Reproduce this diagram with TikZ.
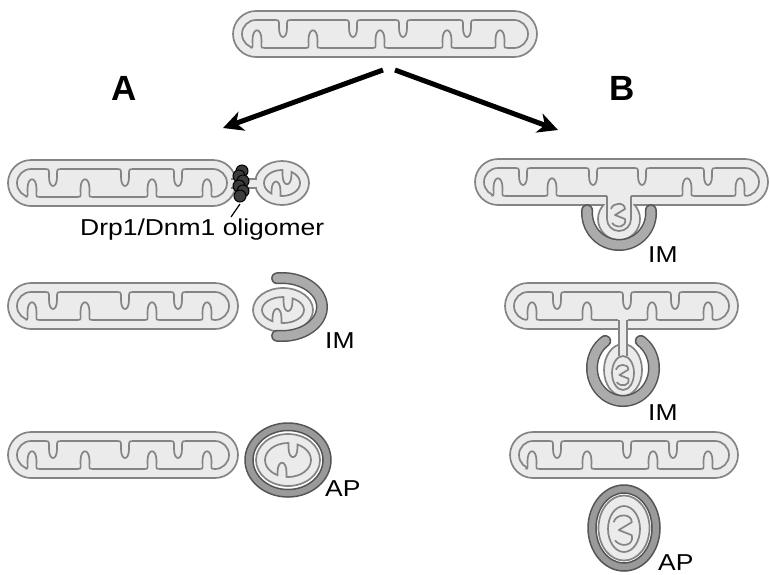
\documentclass[tikz,border=0pt]{standalone}
\usepackage{fontspec}
\setmainfont{Liberation Sans}
\usetikzlibrary{arrows.meta}
\definecolor{mfill}{HTML}{EBEBEB}
\definecolor{mgray}{HTML}{848484}
\definecolor{imfill}{HTML}{ABABAB}
\definecolor{imgray}{HTML}{555555}
\definecolor{apfill}{HTML}{9A9A9A}
\definecolor{drpgray}{HTML}{3C3C3C}
\tikzset{
  memb/.style={draw=mgray, line width=1.7pt},
  cupedge/.style={imgray, line width=12pt, line cap=round},
  cupbody/.style={imfill, line width=9pt, line cap=round},
  ring/.style={draw=imgray, line width=1.5pt},
  lab/.style={inner sep=0pt, font=\fontsize{23}{26}\selectfont, xscale=1.15},
  bigarrow/.style={line width=5pt, -{Stealth[length=20pt,width=20pt,inset=6pt]}},
}
% long mitochondrion: left x, top y, width, cristae from top, cristae from bottom
\newcommand{\mito}[5]{%
  \begin{scope}[shift={(#1,#2)}]
    \draw[memb, fill=mfill, rounded corners=23pt] (0,0) rectangle (#3,46);
    \draw[memb, rounded corners=14pt] (9,9) rectangle (#3-9,37);
    \foreach \px in {#4} {
      \fill[mfill] (\px-6.5,7) -- (\px-6.5,9) .. controls (\px-3.5,9) and (\px-4,12) .. (\px-4,17)
        .. controls (\px-4,29) and (\px+4,29) .. (\px+4,17)
        .. controls (\px+4,12) and (\px+3.5,9) .. (\px+6.5,9) -- (\px+6.5,7) -- cycle;
      \draw[memb] (\px-6.5,9) .. controls (\px-3.5,9) and (\px-4,12) .. (\px-4,17)
        .. controls (\px-4,29) and (\px+4,29) .. (\px+4,17)
        .. controls (\px+4,12) and (\px+3.5,9) .. (\px+6.5,9);
    }
    \foreach \qx in {#5} {
      \fill[mfill] (\qx-6.5,39) -- (\qx-6.5,37) .. controls (\qx-3.5,37) and (\qx-4.5,34) .. (\qx-4.5,29)
        .. controls (\qx-4.5,16) and (\qx+4.5,16) .. (\qx+4.5,29)
        .. controls (\qx+4.5,34) and (\qx+3.5,37) .. (\qx+6.5,37) -- (\qx+6.5,39) -- cycle;
      \draw[memb] (\qx-6.5,37) .. controls (\qx-3.5,37) and (\qx-4.5,34) .. (\qx-4.5,29)
        .. controls (\qx-4.5,16) and (\qx+4.5,16) .. (\qx+4.5,29)
        .. controls (\qx+4.5,34) and (\qx+3.5,37) .. (\qx+6.5,37);
    }
  \end{scope}}
% small round mitochondrion: centre x, centre y, x radius, y radius
\newcommand{\bud}[4]{%
  \pgfmathsetmacro\irx{#3-9}
  \pgfmathsetmacro\iry{#4-9}
  \pgfmathsetmacro\crx{#3-8.2}
  \pgfmathsetmacro\cry{#4-8.2}
  \pgfmathsetmacro\ybot{#2+\iry*sqrt(1-(6/\irx)^2)}
  \pgfmathsetmacro\ytop{#2-\iry*sqrt(1-(5/\irx)^2)}
  \draw[memb, fill=mfill] (#1,#2) ellipse[x radius=#3, y radius=#4];
  \draw[memb] (#1,#2) ellipse[x radius=\irx, y radius=\iry];
  \fill[mfill] (#1-10.5,\ybot+5) -- (#1-10.5,\ybot-4) .. controls (#1-10.5,\ybot-17) and (#1-1.5,\ybot-17) .. (#1-1.5,\ybot-4) -- (#1-1.5,\ybot+5) -- cycle;
  \fill[mfill] (#1+0.5,\ytop-5) -- (#1+0.5,\ytop+4) .. controls (#1+0.5,\ytop+17) and (#1+9.5,\ytop+17) .. (#1+9.5,\ytop+4) -- (#1+9.5,\ytop-5) -- cycle;
  \begin{scope}
    \clip (#1,#2) ellipse[x radius=\crx, y radius=\cry];
    \draw[memb] (#1-10.5,\ybot+5) -- (#1-10.5,\ybot-4) .. controls (#1-10.5,\ybot-17) and (#1-1.5,\ybot-17) .. (#1-1.5,\ybot-4) -- (#1-1.5,\ybot+5);
    \draw[memb] (#1+0.5,\ytop-5) -- (#1+0.5,\ytop+4) .. controls (#1+0.5,\ytop+17) and (#1+9.5,\ytop+17) .. (#1+9.5,\ytop+4) -- (#1+9.5,\ytop-5);
  \end{scope}}
% curled crista inside the engulfed part
\newcommand{\curl}[3]{%
  \begin{scope}[shift={(#1,#2)}, scale=#3]
    \draw[memb, line join=round] (-8,-6) .. controls (-6,-13) and (6,-13) .. (6,-6) -- (-4,0) -- (6,4)
      .. controls (8,12) and (-2,14) .. (-7,8);
  \end{scope}}

\begin{document}
\begin{tikzpicture}[x=1pt, y=-1pt]
\useasboundingbox (0,0) rectangle (770,574);

% starting mitochondrion
\mito{233}{11}{304}{50,120,170,234}{24,80,147,214,267}
\coordinate (splitA) at (383,70);
\coordinate (splitB) at (395,70);
\coordinate (endA) at (223,128);
\coordinate (endB) at (558,130);
\draw[bigarrow] (splitA) -- (endA);
\draw[bigarrow] (splitB) -- (endB);

% pathways
\node[inner sep=0pt, font=\bfseries\fontsize{35}{40}\selectfont] (labA) at (124,88) {A};
\node[inner sep=0pt, font=\bfseries\fontsize{35}{40}\selectfont] (labB) at (622,88) {B};

% A: fission
\mito{8}{160}{228}{45,117,170}{24,77,144,199}
\bud{282}{183}{27}{22}
\fill[mfill] (231,179.8) rectangle (258,187.2);
\draw[memb] (231,179) -- (257,179);
\draw[memb] (231,188) -- (257,188);
\foreach \oy/\ox in {171/242, 176/239, 181/243, 186/239, 191/243, 196/240}
  \draw[black, fill=drpgray, line width=1pt] (\ox,\oy) circle[radius=6];
\node[lab, anchor=base west] (drp) at (80,235) {Drp1/Dnm1 oligomer};
\coordinate (olig) at (240,204);
\coordinate (tick) at (231,217);
\draw[line width=1.2pt] (tick) -- (olig);

% A: isolation membrane
\mito{8}{283}{230}{45,117,170}{24,77,144,199}
\bud{283}{310}{30}{22}
\draw[cupedge] ([shift={(-97:40 and 29)}]282,307) arc[start angle=-97, end angle=97, x radius=40, y radius=29];
\draw[cupbody] ([shift={(-97:40 and 29)}]282,307) arc[start angle=-97, end angle=97, x radius=40, y radius=29];
\node[lab, anchor=base west] (imA) at (325,348) {IM};

% A: autophagosome
\mito{8}{432}{230}{45,117,170}{24,77,144,199}
\draw[ring, fill=apfill] (288,460) ellipse[x radius=43, y radius=37];
\draw[ring, fill=white] (288,460) ellipse[x radius=35, y radius=29.5];
\bud{288}{460}{32}{26}
\node[lab, anchor=base west] (apA) at (325,496) {AP};

% B: piecemeal, row 1
\mito{475}{159}{293}{48,118,167,233}{23,77,212,265}
\begin{scope}
  \clip (590,205) rectangle (650,250);
  \draw[memb, fill=mfill] (619,219) circle[radius=21];
\end{scope}
\fill[mfill] (605,203.5) rectangle (633,206.5);
\fill[mfill] (607,194) rectangle (631,198);
\draw[memb] (607,196) -- (607,219) arc[start angle=180, end angle=0, radius=12] -- (631,196);
\curl{619}{215}{1}
\draw[cupedge] ([shift={(-5:32)}]619,213) arc[start angle=-5, end angle=185, radius=32];
\draw[cupbody] ([shift={(-5:32)}]619,213) arc[start angle=-5, end angle=185, radius=32];
\node[lab, anchor=base west] (imB) at (648,262) {IM};

% B: row 2
\mito{505}{283}{233}{52,122,170}{27,82,147,203}
\draw[memb, fill=mfill] (623,370) ellipse[x radius=19, y radius=26];
\fill[mfill] (618,318) rectangle (628,347);
\draw[memb] (623,373) ellipse[x radius=11, y radius=17];
\draw[memb] (619,320) -- (619,356);
\draw[memb] (627,320) -- (627,356);
\curl{623}{375}{0.9}
\draw[cupedge] ([shift={(-55:31 and 33)}]623,368) arc[start angle=-55, end angle=235, x radius=31, y radius=33];
\draw[cupbody] ([shift={(-55:31 and 33)}]623,368) arc[start angle=-55, end angle=235, x radius=31, y radius=33];
\node[lab, anchor=base west] (imC) at (648,420) {IM};

% B: row 3
\mito{510}{432}{228}{47,117,163}{22,77,143,198}
\draw[ring, fill=apfill] (624,528) ellipse[x radius=36, y radius=43];
\draw[ring, fill=white] (624,528) ellipse[x radius=28, y radius=35];
\draw[memb, fill=mfill] (624,528) ellipse[x radius=25.5, y radius=32.5];
\draw[memb] (624,529) ellipse[x radius=16, y radius=23];
\curl{624}{530}{1.3}
\node[lab, anchor=base west] (apB) at (658,570) {AP};

\end{tikzpicture}
\end{document}
